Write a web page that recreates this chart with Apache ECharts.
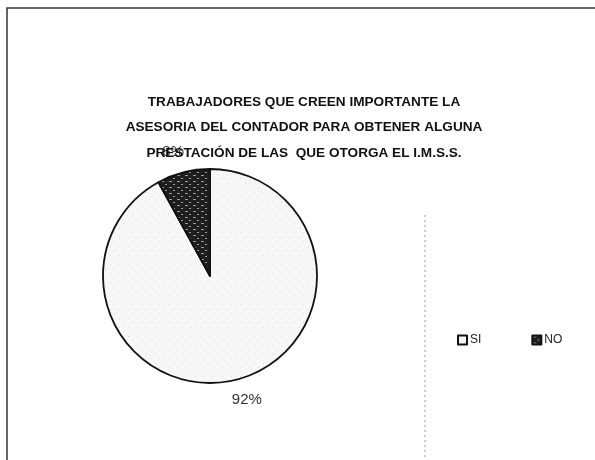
<!DOCTYPE html>
<html>
<head>
<meta charset="utf-8">
<script src="https://cdn.jsdelivr.net/npm/echarts@6/dist/echarts.min.js"></script>
<style>
  html, body { margin: 0; padding: 0; background: #fff; }
  #main { width: 595px; height: 460px; }
</style>
</head>
<body>
<div id="main"></div>
<script>
// datos del gráfico
var categorias = ["SI", "NO"];
var valores = [92, 8];
var titulo = "TRABAJADORES QUE CREEN IMPORTANTE LA\nASESORIA DEL CONTADOR PARA OBTENER ALGUNA\nPRESTACIÓN DE LAS  QUE OTORGA EL I.M.S.S.";

// textura oscura para la rebanada NO
function texturaOscura() {
  var c = document.createElement("canvas");
  c.width = 8;
  c.height = 6;
  var ctx = c.getContext("2d");
  ctx.fillStyle = "#1e1e1e";
  ctx.fillRect(0, 0, 8, 6);
  ctx.fillStyle = "#9a9a9a";
  ctx.fillRect(1, 1, 3, 1);
  ctx.fillRect(5, 4, 2, 1);
  return c;
}

// textura clara (punteado) para la rebanada SI
function texturaClara() {
  var c = document.createElement("canvas");
  c.width = 9;
  c.height = 9;
  var ctx = c.getContext("2d");
  ctx.fillStyle = "#f7f7f7";
  ctx.fillRect(0, 0, 9, 9);
  ctx.fillStyle = "#dcdcdc";
  ctx.fillRect(2, 3, 1, 1);
  ctx.fillRect(6, 7, 1, 1);
  return c;
}

var colores = [
  { image: texturaClara(), repeat: "repeat" },
  { image: texturaOscura(), repeat: "repeat" }
];

var chart = echarts.init(document.getElementById("main"));
chart.setOption({
  backgroundColor: "#fff",
  animation: false,
  title: {
    text: titulo,
    left: 299,
    top: 84,
    textAlign: "center",
    textStyle: {
      fontFamily: "Liberation Sans",
      fontSize: 13.6,
      fontWeight: "bold",
      color: "#111",
      lineHeight: 25.5
    }
  },
  legend: {
    data: categorias,
    left: 452,
    top: 329,
    itemWidth: 9,
    itemHeight: 9,
    itemGap: 50,
    icon: "rect",
    textStyle: {
      fontFamily: "Liberation Sans",
      fontSize: 12,
      color: "#222",
      padding: [0, 0, 0, -2]
    }
  },
  graphic: [
    {
      type: "polyline",
      shape: { points: [[7, 460], [7, 8], [595, 8]] },
      style: { stroke: "#333", lineWidth: 1.5, fill: null }
    },
    {
      type: "line",
      shape: { x1: 425, y1: 215, x2: 425, y2: 460 },
      style: { stroke: "#999", lineWidth: 1, lineDash: [2, 3] }
    }
  ],
  series: [
    {
      type: "pie",
      center: [210, 276],
      radius: 107,
      startAngle: 90,
      clockwise: true,
      data: categorias.map(function (c, i) {
        return {
          name: c,
          value: valores[i],
          itemStyle: { color: colores[i] }
        };
      }),
      itemStyle: {
        borderColor: "#111",
        borderWidth: 1.8
      },
      label: {
        show: true,
        position: "outside",
        formatter: "{d}%",
        fontFamily: "Liberation Sans",
        fontSize: 15,
        color: "#333"
      },
      labelLine: { show: false, length: 21, length2: 0 },
      labelLayout: { align: "center", verticalAlign: "middle" },
      emphasis: { disabled: true }
    }
  ]
});
</script>
</body>
</html>
